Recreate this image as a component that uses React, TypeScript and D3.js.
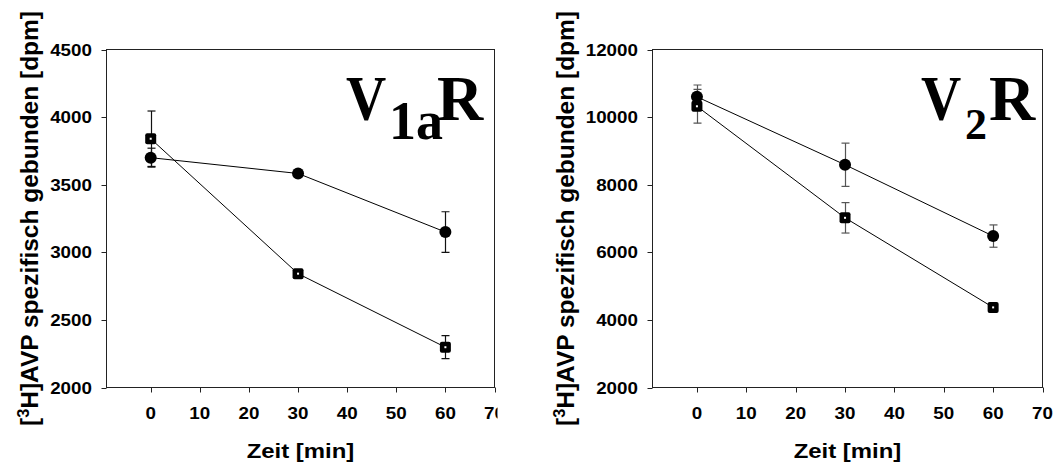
import React, { useRef, useEffect } from "react";
import * as d3 from "d3";

// time points [min]
const times = [0, 30, 60];
const xTicks = [0, 10, 20, 30, 40, 50, 60, 70];

// V1aR panel
const v1aTicks = [2000, 2500, 3000, 3500, 4000, 4500];
const v1aCircle = [3700, 3583, 3150];
const v1aCircleErr = [70, 12, 150];
const v1aSquare = [3840, 2842, 2298];
const v1aSquareErr = [205, 12, 85];

// V2R panel
const v2Ticks = [2000, 4000, 6000, 8000, 10000, 12000];
const v2Circle = [10600, 8590, 6480];
const v2CircleErr = [350, 640, 330];
const v2Square = [10320, 7020, 4370];
const v2SquareErr = [500, 450, 60];

const SANS = "Arial, 'Liberation Sans', sans-serif";
const SERIF = "'Times New Roman', 'Liberation Serif', serif";
const SX = 1.14; // horizontal stretch of the sans text

export default function App() {
  const ref = useRef<SVGSVGElement>(null);

  useEffect(() => {
    const svg = d3.select(ref.current);
    svg.selectAll("*").remove();

    const top = 49.5;
    const bottom = 387.5;

    const panels = [
      {
        id: "p1", left: 106.5, right: 494.5, clip: 497.5,
        yDomain: [2000, 4500], yTicks: v1aTicks, ylabX: 38,
        circle: v1aCircle, circleErr: v1aCircleErr,
        square: v1aSquare, squareErr: v1aSquareErr,
        errColor: "#111",
        title: [
          { t: "V", x: 346, y: 120, size: 64, sx: 0.87 },
          { t: "1a", x: 389, y: 138.5, size: 54, sx: 1 },
          { t: "R", x: 437, y: 120, size: 64, sx: 1 },
        ],
      },
      {
        id: "p2", left: 652.5, right: 1042.5, clip: 1053,
        yDomain: [2000, 12000], yTicks: v2Ticks, ylabX: 574,
        circle: v2Circle, circleErr: v2CircleErr,
        square: v2Square, squareErr: v2SquareErr,
        errColor: "#555",
        title: [
          { t: "V", x: 921, y: 120, size: 64, sx: 0.87 },
          { t: "2", x: 965, y: 138.5, size: 44, sx: 1 },
          { t: "R", x: 989, y: 120, size: 64, sx: 1 },
        ],
      },
    ];

    panels.forEach((p) => {
      svg.append("clipPath").attr("id", p.id)
        .append("rect").attr("x", p.left - 120).attr("y", 0)
        .attr("width", p.clip - p.left + 120).attr("height", 463);

      const g = svg.append("g").attr("clip-path", `url(#${p.id})`);

      const x = d3.scaleLinear().domain([-9, 70]).range([p.left, p.right]);
      const y = d3.scaleLinear().domain(p.yDomain).range([bottom, top]);

      // frame
      g.append("rect")
        .attr("x", p.left).attr("y", top)
        .attr("width", p.right - p.left).attr("height", bottom - top)
        .attr("fill", "none").attr("stroke", "#222").attr("stroke-width", 1);

      // x ticks
      g.append("g").selectAll("line").data(xTicks).join("line")
        .attr("x1", (d) => Math.round(x(d)) + 0.5).attr("x2", (d) => Math.round(x(d)) + 0.5)
        .attr("y1", bottom).attr("y2", bottom + 5)
        .attr("stroke", "#222");
      g.append("g").selectAll("text").data(xTicks).join("text")
        .attr("transform", (d) => `translate(${x(d)},418.5) scale(${SX},1)`)
        .attr("text-anchor", "middle")
        .attr("font-family", SANS).attr("font-weight", "bold").attr("font-size", 16.5)
        .text((d) => d);

      // y ticks
      g.append("g").selectAll("line").data(p.yTicks).join("line")
        .attr("x1", p.left - 5).attr("x2", p.left)
        .attr("y1", (d) => Math.round(y(d)) + 0.5).attr("y2", (d) => Math.round(y(d)) + 0.5)
        .attr("stroke", "#222");
      g.append("g").selectAll("text").data(p.yTicks).join("text")
        .attr("transform", (d) => `translate(${p.left - 14.5},${y(d) + 6}) scale(${SX},1)`)
        .attr("text-anchor", "end")
        .attr("font-family", SANS).attr("font-weight", "bold").attr("font-size", 16.5)
        .text((d) => d);

      // axis titles
      g.append("text")
        .attr("transform", `translate(${(p.left + p.right) / 2},458) scale(${SX},1)`)
        .attr("text-anchor", "middle")
        .attr("font-family", SANS).attr("font-weight", "bold").attr("font-size", 21)
        .text("Zeit [min]");

      const yl = g.append("text")
        .attr("transform", `translate(${p.ylabX},${(top + bottom) / 2}) scale(${SX},1) rotate(-90)`)
        .attr("text-anchor", "middle")
        .attr("font-family", SANS).attr("font-weight", "bold").attr("font-size", 21)
        .attr("textLength", 415).attr("lengthAdjust", "spacingAndGlyphs");
      yl.append("tspan").text("[");
      yl.append("tspan").attr("font-size", 14).attr("dy", -8).text("3");
      yl.append("tspan").attr("dy", 8).text("H]AVP spezifisch gebunden [dpm]");

      // lines
      const line = d3.line<number>().x((_, i) => x(times[i])).y((d) => y(d));
      [p.square, p.circle].forEach((s) => {
        g.append("path").attr("d", line(s)).attr("fill", "none")
          .attr("stroke", "#000").attr("stroke-width", 1);
      });

      // error bars
      const drawErr = (vals: number[], errs: number[]) => {
        vals.forEach((v, i) => {
          const cx = Math.round(x(times[i])) + 0.5;
          const y1 = y(v + errs[i]);
          const y2 = y(v - errs[i]);
          g.append("line").attr("x1", cx).attr("x2", cx).attr("y1", y1).attr("y2", y2)
            .attr("stroke", p.errColor).attr("stroke-width", 1.2);
          [y1, y2].forEach((yy) => {
            g.append("line").attr("x1", cx - 4).attr("x2", cx + 4).attr("y1", yy).attr("y2", yy)
              .attr("stroke", p.errColor).attr("stroke-width", 1.2);
          });
        });
      };
      drawErr(p.square, p.squareErr);
      drawErr(p.circle, p.circleErr);

      // markers
      g.append("g").selectAll("rect").data(p.square).join("rect")
        .attr("x", (_, i) => x(times[i]) - 5.5).attr("y", (d) => y(d) - 5.5)
        .attr("width", 11).attr("height", 11).attr("rx", 2)
        .attr("fill", "#000");
      g.append("g").selectAll("rect").data(p.square).join("rect")
        .attr("x", (_, i) => x(times[i]) - 1).attr("y", (d) => y(d) - 1)
        .attr("width", 2).attr("height", 2)
        .attr("fill", "#fff");
      g.append("g").selectAll("circle").data(p.circle).join("circle")
        .attr("cx", (_, i) => x(times[i])).attr("cy", (d) => y(d))
        .attr("r", 6).attr("fill", "#000");

      // receptor title
      p.title.forEach((t) => {
        g.append("text")
          .attr("transform", `translate(${t.x},${t.y}) scale(${t.sx},1)`)
          .attr("font-family", SERIF).attr("font-weight", "bold").attr("font-size", t.size)
          .text(t.t);
      });
    });
  }, []);

  return (
    <svg
      ref={ref}
      width={1053}
      height={463}
      style={{ position: "absolute", left: 0, top: 0, background: "#fff" }}
    />
  );
}
